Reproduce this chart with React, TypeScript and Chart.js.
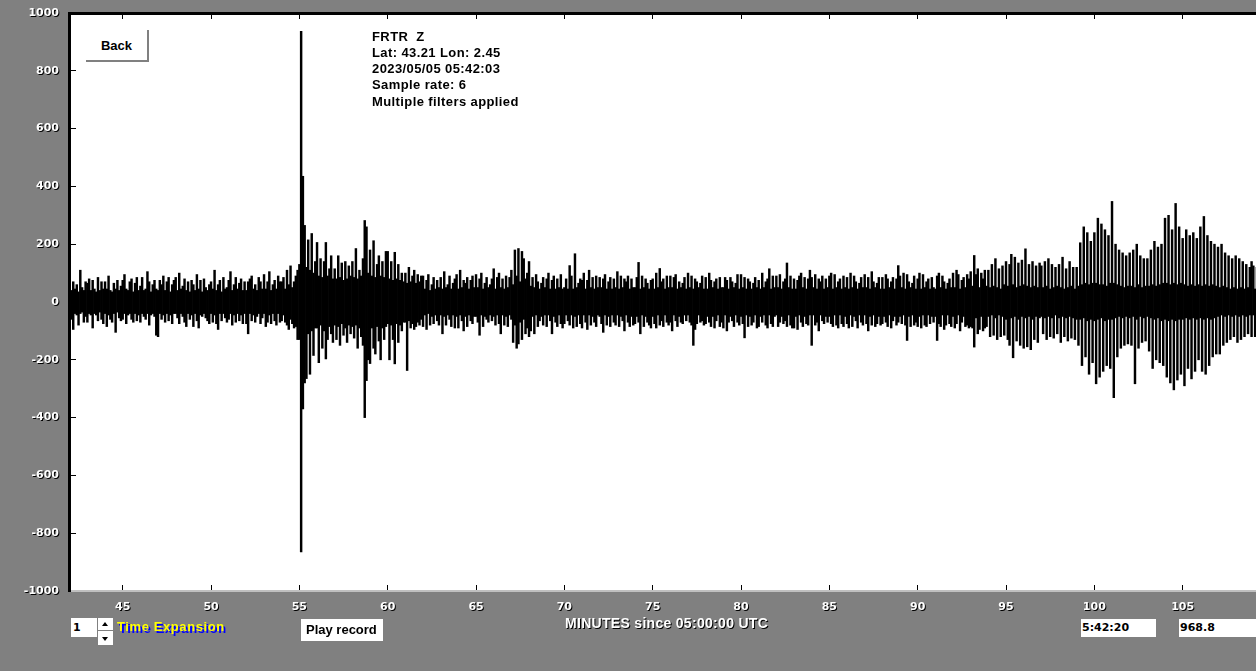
import React, { useEffect, useRef } from "react";
import { Chart, registerables } from "chart.js";

Chart.register(...registerables);

// Width of one plotted trace column (minutes); each column spans [lower, upper]
const COLUMN_STEP_MIN = 0.1;

// ---- Background noise before the event (minutes 42.0 - 54.9)
const preEventStart = 42.0;
const preEventUpper = [
  115, 40, 70, 45, 60, 35, 110, 50, 40, 70,
  65, 80, 40, 75, 45, 35, 85, 40, 70, 45,
  70, 45, 90, 40, 35, 65, 45, 75, 40, 55,
  75, 95, 45, 40, 70, 80, 35, 65, 85, 40,
  55, 85, 40, 45, 105, 70, 35, 60, 75, 45,
  40, 75, 60, 90, 40, 70, 85, 35, 60, 75,
  85, 40, 100, 45, 55, 80, 40, 70, 35, 75,
  60, 40, 95, 45, 75, 35, 80, 50, 40, 60,
  70, 45, 110, 40, 60, 75, 35, 85, 45, 50,
  75, 105, 40, 60, 85, 45, 65, 80, 40, 70,
  40, 70, 80, 90, 45, 60, 40, 85, 70, 45,
  95, 45, 70, 105, 40, 60, 75, 45, 90, 70,
  70, 85, 45, 110, 60, 125, 50, 70, 90, 110,
];
const preEventLower = [
  -45, -60, -95, -40, -45, -80, -40, -35, -70, -50,
  -70, -40, -45, -90, -40, -45, -65, -35, -60, -75,
  -40, -85, -45, -60, -70, -40, -105, -35, -55, -65,
  -60, -40, -75, -45, -40, -60, -70, -40, -65, -45,
  -70, -40, -50, -60, -40, -80, -45, -40, -50, -115,
  -120, -40, -60, -45, -70, -40, -65, -45, -75, -40,
  -40, -55, -75, -40, -50, -70, -85, -40, -60, -45,
  -85, -40, -65, -90, -45, -50, -40, -55, -65, -75,
  -40, -70, -45, -75, -95, -40, -65, -40, -55, -70,
  -60, -40, -80, -45, -70, -40, -65, -45, -75, -40,
  -75, -110, -40, -65, -45, -70, -50, -40, -75, -55,
  -40, -85, -70, -45, -75, -40, -65, -80, -40, -70,
  -65, -45, -70, -80, -95, -60, -75, -90, -85, -130,
];

// ---- P / S arrivals (minutes 55.0 - 61.9)
const arrivalsStart = 55.0;
const arrivalsUpper = [
  130, 937, 435, 265, 120, 215, 110, 237, 100, 140,
  206, 90, 150, 85, 140, 206, 90, 115, 160, 80,
  115, 80, 160, 85, 135, 75, 140, 80, 125, 90,
  140, 85, 185, 80, 110, 90, 150, 282, 260, 100,
  180, 90, 212, 85, 130, 160, 90, 140, 85, 175,
  175, 80, 140, 75, 172, 80, 130, 75, 100, 70,
  100, 65, 120, 70, 90, 110, 65, 95, 70, 90,
];
const arrivalsLower = [
  -130, -865, -370, -280, -265, -110, -250, -100, -185, -90,
  -90, -210, -80, -160, -100, -197, -130, -85, -110, -140,
  -80, -130, -85, -150, -75, -115, -90, -140, -80, -110,
  -85, -125, -80, -160, -90, -120, -150, -400, -272, -200,
  -213, -90, -160, -180, -85, -135, -200, -90, -130, -85,
  -75, -200, -80, -130, -214, -75, -140, -80, -100, -70,
  -70, -237, -65, -90, -75, -95, -85, -70, -80, -60,
];

// ---- Coda (minutes 62.0 - 93.9)
const codaStart = 62.0;
const codaUpper = [
  90, 45, 75, 95, 40, 60, 85, 45, 75, 50,
  85, 45, 105, 50, 60, 90, 45, 65, 80, 95,
  45, 110, 50, 75, 65, 85, 45, 75, 90, 50,
  95, 50, 80, 100, 45, 65, 85, 50, 60, 80,
  115, 45, 85, 100, 50, 80, 45, 90, 50, 85,
  110, 60, 180, 90, 185, 70, 175, 150, 80, 100,
  140, 55, 85, 50, 95, 70, 45, 65, 85, 50,
  80, 100, 45, 75, 90, 45, 80, 50, 95, 45,
  50, 80, 45, 126, 90, 45, 167, 50, 65, 80,
  75, 100, 45, 75, 110, 50, 85, 45, 90, 50,
  85, 50, 80, 95, 45, 70, 85, 45, 80, 50,
  105, 45, 90, 50, 80, 70, 90, 45, 80, 50,
  50, 85, 137, 45, 90, 50, 80, 65, 45, 75,
  80, 45, 100, 50, 116, 70, 80, 45, 90, 50,
  90, 50, 85, 95, 45, 70, 50, 65, 85, 45,
  100, 50, 90, 45, 80, 70, 50, 65, 90, 45,
  85, 45, 100, 75, 50, 70, 80, 45, 85, 50,
  50, 85, 75, 45, 85, 70, 50, 65, 95, 45,
  95, 50, 85, 45, 80, 70, 45, 65, 85, 50,
  75, 45, 100, 50, 70, 80, 115, 45, 90, 50,
  90, 50, 95, 45, 70, 80, 135, 50, 90, 45,
  80, 45, 75, 90, 100, 50, 85, 45, 80, 110,
  85, 50, 95, 45, 80, 70, 90, 45, 80, 50,
  90, 100, 45, 95, 50, 70, 80, 45, 90, 50,
  85, 45, 100, 50, 90, 70, 45, 65, 85, 50,
  95, 50, 85, 45, 105, 70, 50, 65, 85, 45,
  85, 45, 95, 80, 50, 70, 85, 45, 80, 126,
  90, 50, 100, 45, 95, 70, 50, 65, 90, 45,
  80, 100, 45, 95, 50, 70, 80, 45, 85, 50,
  45, 90, 100, 50, 90, 70, 45, 65, 80, 50,
  100, 50, 110, 95, 45, 75, 85, 50, 95, 80,
  105, 55, 161, 95, 115, 50, 100, 80, 110, 55,
];
const codaLower = [
  -85, -45, -95, -40, -80, -50, -75, -45, -65, -80,
  -45, -110, -50, -80, -45, -60, -85, -45, -90, -50,
  -90, -45, -65, -100, -50, -85, -45, -65, -75, -50,
  -50, -70, -115, -45, -85, -50, -60, -70, -45, -65,
  -50, -80, -45, -75, -110, -45, -80, -50, -85, -45,
  -60, -140, -80, -160, -145, -70, -130, -60, -110, -90,
  -120, -100, -50, -110, -45, -85, -65, -50, -80, -45,
  -85, -45, -65, -110, -50, -70, -85, -45, -75, -90,
  -75, -45, -65, -80, -45, -90, -50, -85, -45, -75,
  -90, -45, -70, -95, -45, -80, -50, -70, -85, -45,
  -50, -75, -105, -45, -80, -50, -85, -45, -70, -80,
  -45, -85, -50, -65, -100, -45, -70, -85, -50, -80,
  -75, -50, -70, -110, -45, -85, -50, -70, -80, -90,
  -50, -75, -90, -45, -80, -65, -85, -45, -70, -80,
  -70, -100, -45, -65, -85, -50, -70, -75, -45, -65,
  -45, -70, -80, -150, -95, -75, -45, -70, -65, -80,
  -75, -50, -70, -85, -50, -90, -65, -45, -85, -70,
  -90, -45, -100, -70, -50, -65, -85, -45, -70, -80,
  -50, -75, -124, -45, -85, -50, -80, -70, -45, -90,
  -85, -50, -70, -45, -80, -90, -45, -75, -85, -50,
  -45, -85, -70, -50, -75, -65, -85, -45, -80, -90,
  -90, -50, -95, -45, -70, -85, -50, -75, -80, -45,
  -150, -45, -80, -70, -100, -45, -65, -75, -50, -70,
  -50, -75, -85, -45, -80, -90, -45, -75, -85, -50,
  -75, -90, -45, -85, -50, -65, -90, -45, -70, -80,
  -45, -75, -100, -50, -80, -45, -85, -75, -50, -80,
  -75, -50, -70, -85, -45, -90, -65, -50, -80, -70,
  -50, -75, -45, -80, -133, -50, -85, -45, -80, -70,
  -85, -50, -90, -45, -80, -85, -45, -75, -50, -70,
  -50, -133, -75, -85, -45, -95, -80, -45, -75, -85,
  -50, -90, -75, -45, -100, -70, -50, -85, -80, -90,
  -85, -90, -156, -55, -110, -95, -50, -100, -90, -85,
];

// ---- Surface waves (minutes 94.0 - 109.2)
const surfaceStart = 94.0;
const surfaceUpper = [
  110, 50, 130, 55, 150, 50, 115, 45, 125, 60,
  140, 55, 130, 165, 60, 155, 50, 135, 55, 145,
  60, 184, 55, 130, 50, 140, 55, 125, 50, 135,
  125, 50, 140, 55, 150, 45, 130, 50, 120, 55,
  130, 50, 155, 45, 115, 50, 140, 55, 120, 45,
  120, 55, 205, 60, 260, 65, 240, 60, 210, 65,
  240, 65, 290, 60, 270, 60, 250, 55, 230, 65,
  348, 65, 200, 60, 180, 55, 170, 50, 160, 55,
  170, 55, 180, 50, 200, 60, 160, 50, 150, 55,
  150, 55, 180, 60, 210, 55, 190, 60, 200, 65,
  290, 65, 300, 60, 250, 65, 341, 60, 260, 65,
  220, 60, 250, 55, 230, 60, 240, 55, 220, 60,
  260, 55, 296, 60, 230, 55, 210, 60, 200, 55,
  190, 50, 200, 55, 170, 50, 160, 45, 150, 50,
  160, 45, 150, 50, 140, 45, 130, 50, 120, 140,
  125, 45, 120,
];
const surfaceLower = [
  -50, -120, -45, -115, -55, -130, -45, -120, -50, -115,
  -60, -130, -150, -55, -193, -50, -135, -60, -150, -50,
  -160, -55, -155, -50, -165, -60, -130, -50, -140, -55,
  -50, -110, -55, -130, -50, -120, -55, -125, -45, -110,
  -55, -140, -50, -120, -55, -135, -50, -125, -55, -130,
  -60, -150, -60, -220, -55, -190, -65, -250, -60, -210,
  -65, -283, -60, -260, -55, -240, -65, -220, -60, -230,
  -60, -331, -55, -190, -50, -160, -55, -150, -50, -145,
  -55, -150, -50, -283, -60, -160, -50, -140, -55, -135,
  -50, -170, -55, -230, -60, -200, -55, -210, -65, -220,
  -60, -260, -65, -280, -60, -304, -65, -270, -60, -250,
  -60, -290, -55, -230, -60, -266, -55, -240, -60, -200,
  -55, -240, -60, -250, -55, -220, -60, -190, -55, -180,
  -50, -180, -45, -150, -50, -140, -45, -130, -50, -120,
  -45, -140, -50, -130, -45, -120, -50, -110, -45, -120,
  -45, -120, -100,
];

const xMin = 41.96;
const xMax = 109.15;
const yMin = -1000;
const yMax = 1000;
const xTickValues = [45, 50, 55, 60, 65, 70, 75, 80, 85, 90, 95, 100, 105];
const yTickValues = [-1000, -800, -600, -400, -200, 0, 200, 400, 600, 800, 1000];

const infoLines = [
  "FRTR  Z",
  "Lat: 43.21 Lon: 2.45",
  "2023/05/05 05:42:03",
  "Sample rate: 6",
  "Multiple filters applied",
];
const xAxisTitle = "MINUTES since 05:00:00 UTC";
const timeExpansion = "1";
const cursorTime = "5:42:20";
const cursorValue = "968.8";

function buildColumns() {
  const segments: [number, number[], number[]][] = [
    [preEventStart, preEventUpper, preEventLower],
    [arrivalsStart, arrivalsUpper, arrivalsLower],
    [codaStart, codaUpper, codaLower],
    [surfaceStart, surfaceUpper, surfaceLower],
  ];
  const cols: { x: number; y: [number, number] }[] = [];
  segments.forEach(([start, up, lo]) => {
    up.forEach((u, i) => {
      cols.push({ x: Math.round((start + i * COLUMN_STEP_MIN) * 100) / 100, y: [lo[i], u] });
    });
  });
  return cols;
}

const TICK_FONT = { family: "DejaVu Sans", weight: "bold" as const, size: 11 };

const plotPlugin = {
  id: "plotStyle",
  beforeDraw(chart: any) {
    const { ctx, chartArea: a } = chart;
    ctx.save();
    ctx.fillStyle = "#ffffff";
    ctx.fillRect(a.left, a.top, a.right - a.left, a.bottom - a.top);
    ctx.restore();
  },
  afterDatasetsDraw(chart: any) {
    const ctx = chart.ctx;
    ctx.save();
    ctx.shadowColor = "#000000";
    ctx.shadowOffsetX = 1;
    ctx.shadowOffsetY = 1;
    ctx.shadowBlur = 0;
  },
  afterDraw(chart: any) {
    chart.ctx.restore();
  },
};

const noPad = (s: any) => {
  s.paddingTop = 0;
  s.paddingBottom = 0;
  s.paddingLeft = 0;
  s.paddingRight = 0;
};

const base: React.CSSProperties = { position: "absolute", margin: 0, padding: 0, whiteSpace: "pre" };

export default function App() {
  const ref = useRef<HTMLCanvasElement>(null);

  useEffect(() => {
    if (!ref.current) return;
    const chart = new Chart(ref.current, {
      type: "bar",
      data: {
        datasets: [
          {
            data: buildColumns(),
            backgroundColor: "#000000",
            borderWidth: 0,
            barThickness: 1.8,
            grouped: false,
            xAxisID: "x",
            yAxisID: "y",
          },
        ],
      },
      options: {
        animation: false,
        responsive: false,
        events: [],
        layout: { padding: 0 },
        plugins: { legend: { display: false }, tooltip: { enabled: false }, title: { display: false } },
        scales: {
          x: {
            type: "linear",
            position: "bottom",
            min: xMin,
            max: xMax,
            offset: false,
            afterBuildTicks: (s: any) => {
              s.ticks = xTickValues.map((v) => ({ value: v }));
            },
            afterFit: (s: any) => {
              s.height = 80;
              noPad(s);
            },
            grid: { offset: false, drawOnChartArea: false, drawTicks: true, tickLength: -6, color: "#000000", lineWidth: 1 },
            border: { display: true, color: "#c0c0c0", width: 2 },
            ticks: {
              color: "#ffffff",
              padding: 16,
              font: TICK_FONT,
              maxRotation: 0,
              autoSkip: false,
              z: 1,
              callback: (v: any) => String(v),
            },
          },
          xTop: {
            type: "linear",
            position: "top",
            min: xMin,
            max: xMax,
            offset: false,
            afterBuildTicks: (s: any) => {
              s.ticks = xTickValues.map((v) => ({ value: v }));
            },
            afterFit: (s: any) => {
              s.height = 13;
              noPad(s);
            },
            grid: { offset: false, drawOnChartArea: false, drawTicks: true, tickLength: -6, color: "#000000", lineWidth: 1 },
            border: { display: true, color: "#000000", width: 3 },
            ticks: { display: false },
          },
          y: {
            type: "linear",
            position: "left",
            min: yMin,
            max: yMax,
            afterBuildTicks: (s: any) => {
              s.ticks = yTickValues.map((v) => ({ value: v }));
            },
            afterFit: (s: any) => {
              s.width = 69;
              noPad(s);
            },
            grid: { drawOnChartArea: false, drawTicks: true, tickLength: -7, color: "#000000", lineWidth: 1 },
            border: { display: true, color: "#000000", width: 3 },
            ticks: {
              color: "#ffffff",
              padding: 17,
              font: TICK_FONT,
              autoSkip: false,
              z: 1,
              callback: (v: any) => String(v),
            },
          },
        } as any,
      },
      plugins: [plotPlugin],
    } as any);
    return () => chart.destroy();
  }, []);

  const arial13: React.CSSProperties = {
    fontFamily: '"Liberation Sans", Arial, sans-serif',
    fontWeight: "bold",
    fontSize: 13,
  };
  const dejavu11: React.CSSProperties = {
    fontFamily: '"DejaVu Sans", sans-serif',
    fontWeight: "bold",
    fontSize: 11,
  };

  return (
    <div
      style={{
        position: "fixed",
        left: 0,
        top: 0,
        width: 1256,
        height: 671,
        background: "#808080",
        overflow: "hidden",
      }}
    >
      <canvas
        ref={ref}
        width={1256}
        height={671}
        style={{ position: "absolute", left: 0, top: 0, width: 1256, height: 671 }}
      />

      {/* station info */}
      <div style={{ ...base, ...arial13, left: 372, top: 28.6, lineHeight: "16.25px", letterSpacing: "0.4px", color: "#000" }}>
        {infoLines.map((l, i) => (
          <div key={i}>{l}</div>
        ))}
      </div>

      {/* Back button */}
      <div
        style={{
          ...base,
          ...arial13,
          left: 86,
          top: 30,
          width: 61,
          height: 30,
          background: "#ffffff",
          borderRight: "2px solid #808080",
          borderBottom: "2px solid #808080",
          lineHeight: "32px",
          textAlign: "center",
          color: "#000",
        }}
      >
        Back
      </div>

      {/* x axis title */}
      <div
        style={{
          ...base,
          fontFamily: '"Liberation Sans", Arial, sans-serif',
          fontWeight: "bold",
          fontSize: 14,
          left: 565,
          top: 615.4,
          lineHeight: "16px",
          letterSpacing: "0.3px",
          color: "#ffffff",
          textShadow: "1px 1px 0 #000",
        }}
      >
        {xAxisTitle}
      </div>

      {/* time expansion box */}
      <div style={{ ...base, ...dejavu11, left: 71, top: 618, width: 26, height: 19, background: "#fff", lineHeight: "19px", color: "#000", paddingLeft: 2, boxSizing: "border-box" }}>
        {timeExpansion}
      </div>
      <div style={{ ...base, left: 98, top: 618, width: 15, height: 12, background: "#fff" }}>
        <div style={{ position: "absolute", left: 4, top: 4, width: 0, height: 0, borderLeft: "3.5px solid transparent", borderRight: "3.5px solid transparent", borderBottom: "4px solid #000" }} />
      </div>
      <div style={{ ...base, left: 98, top: 631, width: 15, height: 14, background: "#fff" }}>
        <div style={{ position: "absolute", left: 4, top: 6, width: 0, height: 0, borderLeft: "3.5px solid transparent", borderRight: "3.5px solid transparent", borderTop: "4px solid #000" }} />
      </div>
      <div
        style={{
          ...base,
          ...arial13,
          left: 117,
          top: 619.4,
          lineHeight: "16px",
          letterSpacing: "0.6px",
          color: "#ffff00",
          textShadow: "2px 2px 0 #0000ff",
        }}
      >
        Time Expansion
      </div>

      {/* play record */}
      <div style={{ ...base, ...arial13, left: 301, top: 619, width: 82, height: 22, background: "#fff", lineHeight: "22px", color: "#000", paddingLeft: 5, boxSizing: "border-box" }}>
        Play record
      </div>

      {/* cursor readouts */}
      <div style={{ ...base, ...dejavu11, left: 1081, top: 619, width: 75, height: 18, background: "#fff", lineHeight: "18px", color: "#000", paddingLeft: 1, boxSizing: "border-box" }}>
        {cursorTime}
      </div>
      <div style={{ ...base, ...dejavu11, left: 1179, top: 619, width: 77, height: 18, background: "#fff", lineHeight: "18px", color: "#000", paddingLeft: 1, boxSizing: "border-box" }}>
        {cursorValue}
      </div>
    </div>
  );
}
